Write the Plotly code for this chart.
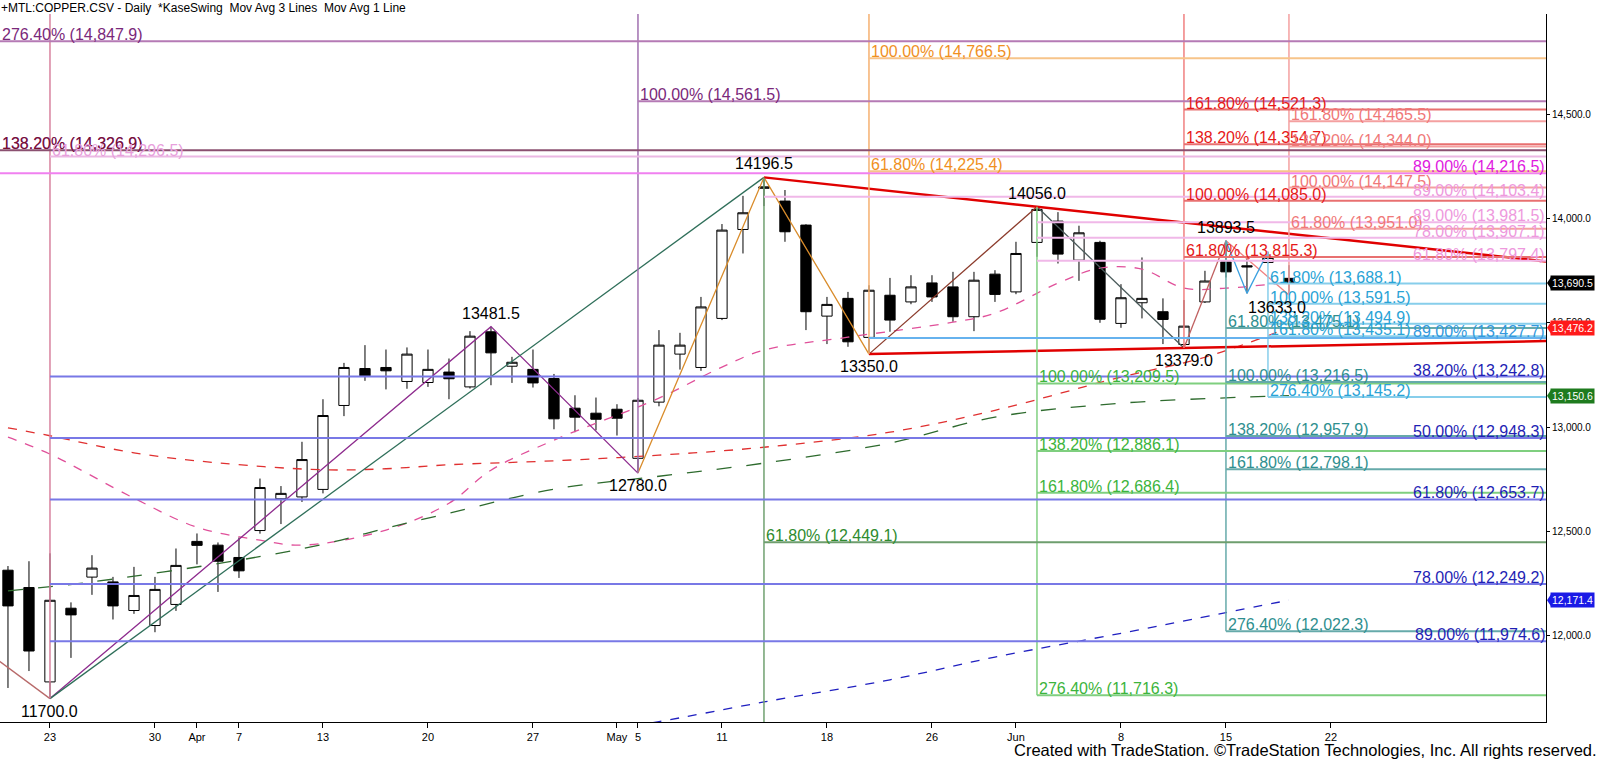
import plotly.graph_objects as go

# daily bars, x = trading-day index (0 = Mar 23)
bar_idx = list(range(-2, 60))
opens = [12315, 12232, 11780, 12133, 12282, 12259, 12122, 12050, 12151, 12453,
         12435, 12376, 12505, 12657, 12666, 12702, 13104, 13281, 13286, 13219,
         13214, 13264, 13193, 13457, 13292, 13277, 13233, 13091, 13067, 13086,
         12851, 13120, 13350, 13286, 13521, 13947, 14144, 14083, 13968, 13532,
         13617, 13430, 13632, 13600, 13691, 13672, 13529, 13733, 13648, 13885,
         13987, 13800, 13885, 13497, 13596, 13553, 13396, 13600, 13792, 13773,
         13789, 13713]
highs = [12335, 12358, 12396, 12161, 12387, 12283, 12331, 12283, 12419, 12491,
         12448, 12472, 12754, 12718, 12930, 13134, 13308, 13393, 13372, 13382,
         13372, 13329, 13460, 13481.5, 13337, 13372, 13255, 13153, 13142, 13110,
         13140, 13465, 13452, 13624, 13973, 14108, 14196.5, 14136, 13972, 13624,
         13648, 13680, 13715, 13728, 13728, 13744, 13744, 13752, 13888, 14056,
         14030, 13965, 13893, 13685, 13813, 13617, 13609, 13749, 13893.5, 13819,
         13840, 13776]
lows = [11751, 11832, 11700, 11895, 12197, 12079, 12106, 12018, 12120, 12343,
        12211, 12278, 12490, 12536, 12642, 12683, 13053, 13222, 13181, 13184,
        13193, 13134, 13185, 13201, 13212, 13190, 12990, 12976, 12985, 12960,
        12780, 13100, 13276, 13270, 13513, 13832, 14059, 13888, 13465, 13398,
        13385, 13350, 13457, 13589, 13600, 13505, 13460, 13600, 13637, 13816,
        13784, 13701, 13500, 13476, 13521, 13398, 13379, 13595, 13717, 13641,
        13784, 13633]
closes = [12144, 11928, 12171, 12101, 12325, 12144, 12194, 12223, 12338, 12434,
          12358, 12312, 12711, 12683, 12845, 13056, 13286, 13246, 13270, 13350,
          13277, 13232, 13436, 13356, 13311, 13212, 13040, 13048, 13038, 13043,
          13129, 13393, 13393, 13576, 13944, 14027, 14151, 13936, 13553, 13588,
          13409, 13656, 13513, 13672, 13624, 13529, 13704, 13636, 13832, 14043,
          13829, 13931, 13517, 13620, 13617, 13516, 13484, 13700, 13744, 13768,
          13813, 13690.5]

tick_idx = [0, 5, 7, 9, 13, 18, 23, 27, 28, 32, 37, 42, 46, 51, 56, 61]
tick_text = ["23", "30", "Apr", "7", "13", "20", "27", "May", "5", "11",
             "18", "26", "Jun", "8", "15", "22"]

# moving averages (read at sample bars)
ma_pink_idx = [-2, 0, 4, 7, 10, 12, 16, 19, 21, 24, 29, 32, 34, 38, 43, 45, 48, 50, 52, 54, 56, 59]
ma_pink = [12952, 12871, 12660, 12521, 12459, 12435, 12507, 12636, 12794, 12938, 13139,
           13288, 13369, 13431, 13503, 13546, 13690, 13762, 13757, 13666, 13666, 13695]
ma_red_idx = [-2, 0, 4, 8, 13, 16, 19, 24, 29, 34, 40, 45, 51, 55, 59]
ma_red = [12997, 12959, 12877, 12829, 12796, 12801, 12820, 12839, 12866, 12904, 12976,
          13081, 13240, 13335, 13476.2]
ma_green_idx = [-2, 2, 9, 13, 16, 19, 24, 29, 34, 40, 45, 51, 59]
ma_green = [12216, 12259, 12363, 12439, 12516, 12588, 12703, 12765, 12828, 12924, 13048,
            13115, 13150.6]
ma_blue_idx = [27, 29, 34, 40, 45, 51, 56, 59]
ma_blue = [11560, 11590, 11684, 11790, 11899, 12013, 12112, 12171.4]

# swing points
swing_idx = [0, 21, 28, 34, 39, 47, 54, 56, 59]
swing_px = [11700.0, 13481.5, 12780.0, 14196.5, 13350.0, 14056.0, 13379.0, 13893.5, 13633.0]
swing_kind = ["low", "high", "low", "high", "low", "high", "low", "high", "low"]
prev_swing_idx = -8
prev_swing_px = 12295
sky_swing_idx = [56, 57, 58]
sky_swing_px = [13893.5, 13641, 13840]

# fibonacci levels
blue_pct = ["38.20%", "50.00%", "61.80%", "78.00%", "89.00%"]
blue_px = [13242.8, 12948.3, 12653.7, 12249.2, 11974.6]
top_pct = ["276.40%", "138.20%"]
top_px = [14847.9, 14326.9]
pink0_pct, pink0_px = "61.80%", 14296.5
magenta_pct, magenta_px = "89.00%", 14216.5
purple_pct, purple_px = "100.00%", 14561.5
orange_pct = ["100.00%", "61.80%"]
orange_px = [14766.5, 14225.4]
dgreen_pct, dgreen_px = "61.80%", 12449.1
lgreen_pct = ["100.00%", "138.20%", "161.80%", "276.40%"]
lgreen_px = [13209.5, 12886.1, 12686.4, 11716.3]
teal_pct = ["61.80%", "100.00%", "138.20%", "161.80%", "276.40%"]
teal_px = [13475.1, 13216.5, 12957.9, 12798.1, 12022.3]
sky_pct = ["61.80%", "100.00%", "138.20%", "161.80%", "276.40%"]
sky_px = [13688.1, 13591.5, 13494.9, 13435.1, 13145.2]
red_pct = ["61.80%", "100.00%", "138.20%", "161.80%"]
red_px = [13815.3, 14085.0, 14354.7, 14521.3]
salmon_pct = ["61.80%", "100.00%", "138.20%", "161.80%"]
salmon_px = [13951.0, 14147.5, 14344.0, 14465.5]
pinkr_start = [34, 47, 47, 47]
pinkr_pct = ["89.00%", "89.00%", "78.00%", "61.80%"]
pinkr_px = [14103.4, 13981.5, 13907.1, 13797.4]
ltblue_start, ltblue_pct, ltblue_px = 39, "89.00%", 13427.7

x_rng = [-2.38, 71.24]
y_rng = [11588, 14979]
FONT = "Liberation Sans, Arial, sans-serif"

fig = go.Figure()

fig.add_trace(go.Candlestick(
    x=bar_idx, open=opens, high=highs, low=lows, close=closes,
    increasing=dict(line=dict(color="black", width=1), fillcolor="white"),
    decreasing=dict(line=dict(color="black", width=1), fillcolor="black"),
    whiskerwidth=0, hoverinfo="skip"))

for xs, ys, col, dash in [
    (ma_pink_idx, ma_pink, "#E0509A", "dash"),
    (ma_red_idx, ma_red, "#E03030", "dash"),
    (ma_green_idx, ma_green, "#2E6B2E", "longdash"),
    (ma_blue_idx, ma_blue, "#2020C0", "dash"),
]:
    fig.add_trace(go.Scatter(x=xs, y=ys, mode="lines", line=dict(color=col, width=1.3, dash=dash, shape="spline"),
                             hoverinfo="skip"))

shapes = []
annos = []


def hline(x0, price, color, width=2):
    shapes.append(dict(type="line", xref="x", yref="y", x0=x0, x1=x_rng[1], y0=price, y1=price,
                       line=dict(color=color, width=width)))


def vline(x, y0, y1, color):
    shapes.append(dict(type="line", xref="x", yref="y", x0=x, x1=x, y0=y0, y1=y1,
                       line=dict(color=color, width=1.5)))


def label(x, price, text, color, right=False):
    if right:
        annos.append(dict(xref="paper", x=1, xanchor="right", y=price, yref="y", yanchor="bottom",
                          text=text, showarrow=False, font=dict(color=color, size=16, family=FONT),
                          yshift=-3, borderpad=0))
    else:
        annos.append(dict(xref="x", x=x, xanchor="left", y=price, yref="y", yanchor="bottom",
                          text=text, showarrow=False, font=dict(color=color, size=16, family=FONT),
                          xshift=1, yshift=-3, borderpad=0))


def fmt(pct, px):
    return f"{pct} ({px:,.1f})"


# swing lines
sw = dict(zip(swing_idx, swing_px))
segments = [
    ([prev_swing_idx, 0], [prev_swing_px, sw[0]], "#B86A6A"),
    ([0, 21, 28], [sw[0], sw[21], sw[28]], "#8E2C8E"),
    ([0, 34], [sw[0], sw[34]], "#2F6F5A"),
    ([28, 34, 39], [sw[28], sw[34], sw[39]], "#D98C2B"),
    ([39, 47], [sw[39], sw[47]], "#8B3A2A"),
    ([47, 54], [sw[47], sw[54]], "#4A5A5A"),
    ([54, 56], [sw[54], sw[56]], "#C06060"),
    ([56, 59], [sw[56], sw[59]], "#F08080"),
    (sky_swing_idx, sky_swing_px, "#3AA0E0"),
]
for xs, ys, col in segments:
    fig.add_trace(go.Scatter(x=xs, y=ys, mode="lines", line=dict(color=col, width=1.3), hoverinfo="skip"))

# red trend lines through the swing highs / lows, extended to the right edge
for (ia, ib) in [(34, 47), (39, 54)]:
    slope = (sw[ib] - sw[ia]) / (ib - ia)
    fig.add_trace(go.Scatter(x=[ia, x_rng[1]], y=[sw[ia], sw[ia] + slope * (x_rng[1] - ia)],
                             mode="lines", line=dict(color="#E00000", width=2.5), hoverinfo="skip"))

# verticals
vline(0, sw[0], y_rng[1], "#D8829F")
vline(28, sw[28], y_rng[1], "#A070B0")
vline(39, sw[39], y_rng[1], "#F5B070")
vline(34, y_rng[0], sw[34], "#70A070")
vline(47, min(lgreen_px), sw[47], "#80D080")
vline(54, sw[54], y_rng[1], "#F08080")
vline(56, min(teal_px), sw[56], "#66AAAA")
vline(58, min(sky_px), sky_swing_px[-1], "#87CEEB")
vline(59, sw[59], y_rng[1], "#F4A0A0")

# horizontal levels
for pct, px in zip(blue_pct, blue_px):
    hline(0, px, "#7878E6")
    label(None, px, fmt(pct, px), "#1F1FB4", right=True)

hline(x_rng[0], top_px[0], "#B57AB5")
label(x_rng[0], top_px[0], fmt(top_pct[0], top_px[0]), "#7A287A")
hline(x_rng[0], top_px[1], "#8B5070")
label(x_rng[0], top_px[1], fmt(top_pct[1], top_px[1]), "#9A70E0")
label(x_rng[0], top_px[1], fmt(top_pct[1], top_px[1]), "#7A1030")
hline(0, pink0_px, "#EBB8E3")
label(0, pink0_px, fmt(pink0_pct, pink0_px), "#E8A0DC")
hline(x_rng[0], magenta_px, "#F080F0")
label(None, magenta_px, fmt(magenta_pct, magenta_px), "#E01AE0", right=True)

hline(28, purple_px, "#B57AB5")
label(28, purple_px, fmt(purple_pct, purple_px), "#7A287A")

for pct, px in zip(orange_pct, orange_px):
    hline(39, px, "#F7C48A")
    label(39, px, fmt(pct, px), "#F0901E")

hline(34, dgreen_px, "#6E9E6E")
label(34, dgreen_px, fmt(dgreen_pct, dgreen_px), "#2E8B2E")

for pct, px in zip(lgreen_pct, lgreen_px):
    hline(47, px, "#7FCF7F")
    label(47, px, fmt(pct, px), "#3CB43C")

for pct, px in zip(teal_pct, teal_px):
    hline(56, px, "#66AAAA")
    label(56, px, fmt(pct, px), "#2F8F8F")

for pct, px in zip(sky_pct, sky_px):
    hline(58, px, "#87CEEB")
    label(58, px, fmt(pct, px), "#29A3D6")

for pct, px in zip(red_pct, red_px):
    hline(54, px, "#E87070")
    label(54, px, fmt(pct, px), "#E61919")

for pct, px in zip(salmon_pct, salmon_px):
    hline(59, px, "#F4A0A0")
    label(59, px, fmt(pct, px), "#F07878")

for st, pct, px in zip(pinkr_start, pinkr_pct, pinkr_px):
    hline(st, px, "#F0B8E8")
    label(None, px, fmt(pct, px), "#EE99DD", right=True)

hline(ltblue_start, ltblue_px, "#66B2EE")
label(None, ltblue_px, fmt(ltblue_pct, ltblue_px), "#3399DD", right=True)

# swing labels
for i, px, kind in zip(swing_idx, swing_px, swing_kind):
    annos.append(dict(x=i, y=px, xref="x", yref="y", text=f"{px:.1f}", showarrow=False,
                      yanchor="bottom" if kind == "high" else "top",
                      yshift=3 if kind == "high" else -2, xshift=-12 if i == 59 else 0,
                      font=dict(color="black", size=16, family=FONT)))

# price tags on the axis (box + small pointer)
for px, bg in [(closes[-1], "#000000"), (ma_red[-1], "#FF1A1A"),
               (ma_green[-1], "#1E7B1E"), (ma_blue[-1], "#1A1AE6")]:
    shapes.append(dict(type="path", xref="paper", yref="y", xsizemode="pixel", ysizemode="pixel",
                       xanchor=1, yanchor=px, path="M 1,0 L 5,6 L 5,-6 Z",
                       fillcolor=bg, line=dict(color=bg, width=0)))
    annos.append(dict(xref="paper", x=1, xanchor="left", xshift=4, y=px, yref="y", yanchor="middle",
                      text=f"{px:,.1f}", showarrow=False, bgcolor=bg, borderpad=1,
                      font=dict(color="white", size=10.5, family=FONT)))

annos.append(dict(xref="paper", yref="paper", x=0, y=1.008, xanchor="left", yanchor="middle",
                  xshift=-1, showarrow=False,
                  text="+MTL:COPPER.CSV - Daily  *KaseSwing  Mov Avg 3 Lines  Mov Avg 1 Line",
                  font=dict(color="black", size=12, family=FONT)))
annos.append(dict(xref="paper", yref="paper", x=1.0345, y=-0.04, xanchor="right", yanchor="middle",
                  showarrow=False,
                  text="Created with TradeStation. \u00a9TradeStation Technologies, Inc. All rights reserved.",
                  font=dict(color="black", size=16.5, family=FONT)))

fig.update_layout(
    width=1600, height=762,
    margin=dict(l=0, r=54, t=14, b=40),
    plot_bgcolor="white", paper_bgcolor="white",
    showlegend=False,
    shapes=shapes, annotations=annos,
    xaxis=dict(range=x_rng, tickvals=tick_idx, ticktext=tick_text, showgrid=False, zeroline=False,
               showline=True, linecolor="black", linewidth=1, ticks="outside", ticklen=5,
               tickcolor="black", tickfont=dict(size=11, family=FONT, color="black"),
               rangeslider=dict(visible=False)),
    yaxis=dict(range=y_rng, side="right", dtick=500, tickformat=",.1f", showgrid=False, zeroline=False,
               showline=True, linecolor="black", linewidth=1, ticks="outside", ticklen=3,
               tickcolor="black", tickfont=dict(size=10, family=FONT, color="black")),
)

# the page opens at window size, so drop the default body margin
fig.write_html("out.html", config={"displayModeBar": False},
               post_script="document.body.style.margin='0';document.body.style.overflow='hidden';")
